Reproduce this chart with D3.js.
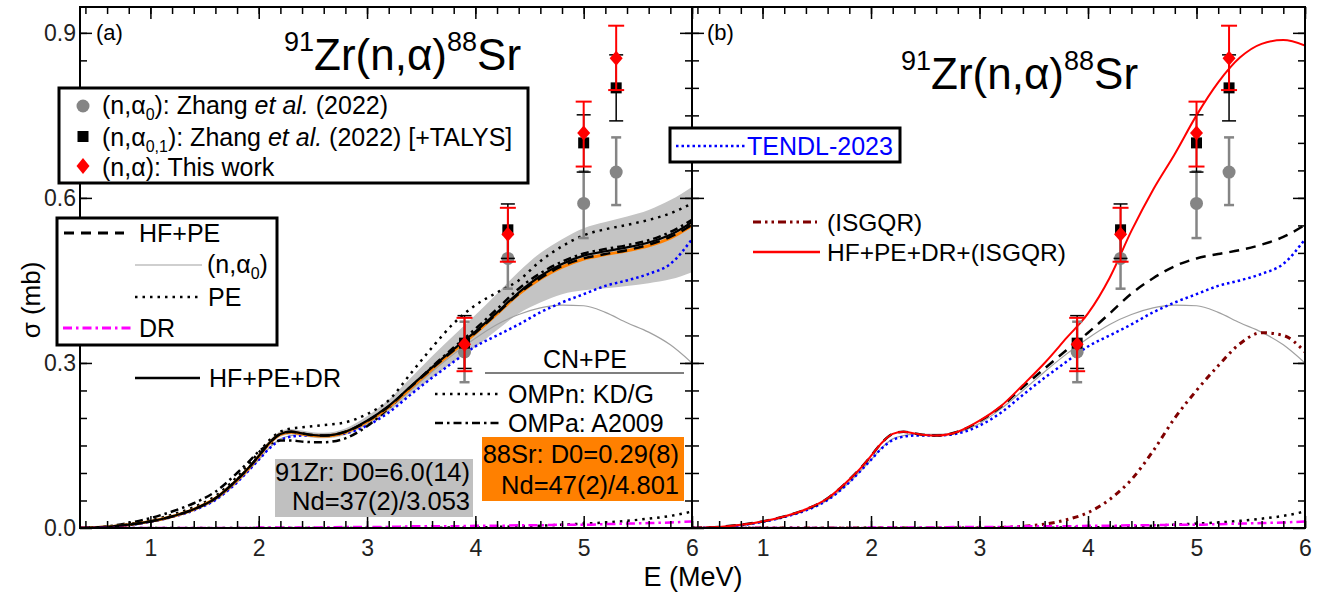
<!DOCTYPE html>
<html>
<head>
<meta charset="utf-8">
<script src="https://cdn.jsdelivr.net/npm/d3@7"></script>
<style>
  body { margin: 0; background: #fff; }
  svg { font-family: "Liberation Sans", Arial, sans-serif; }
</style>
</head>
<body>
<svg id="chart" width="1317" height="594"></svg>
<script>
'use strict';
// energy grid shared by all calculated curves (MeV)
const eGrid = [0.35, 0.6, 0.8, 1.0, 1.2, 1.4, 1.6, 1.8, 1.9, 2.0, 2.1, 2.2, 2.3, 2.4, 2.5, 2.6,
  2.8, 3.0, 3.2, 3.4, 3.6, 3.8, 4.0, 4.2, 4.4, 4.6, 4.8, 5.0, 5.2, 5.4, 5.6, 5.8, 6.0];

// calculated cross sections (mb) on eGrid
const hfPeDr = [0.000, 0.002, 0.006, 0.012, 0.021, 0.034, 0.054, 0.088, 0.108, 0.131, 0.155, 0.171, 0.175, 0.172, 0.169, 0.168,
  0.175, 0.195, 0.222, 0.257, 0.292, 0.325, 0.357, 0.392, 0.428, 0.458, 0.480, 0.495, 0.503, 0.510, 0.519, 0.533, 0.556];
const hfPeDrSr = [0.000, 0.002, 0.006, 0.012, 0.021, 0.034, 0.054, 0.087, 0.107, 0.130, 0.154, 0.170, 0.174, 0.171, 0.168, 0.167,
  0.174, 0.193, 0.220, 0.254, 0.289, 0.322, 0.354, 0.389, 0.425, 0.453, 0.474, 0.489, 0.497, 0.504, 0.513, 0.527, 0.550];
const hfPe = [0.000, 0.002, 0.006, 0.012, 0.021, 0.034, 0.054, 0.088, 0.108, 0.131, 0.155, 0.171, 0.175, 0.172, 0.169, 0.168,
  0.175, 0.194, 0.221, 0.256, 0.290, 0.323, 0.355, 0.390, 0.426, 0.454, 0.476, 0.490, 0.498, 0.505, 0.515, 0.529, 0.551];
const bandHi = [0.000, 0.002, 0.006, 0.012, 0.022, 0.035, 0.056, 0.091, 0.111, 0.135, 0.160, 0.176, 0.180, 0.177, 0.174, 0.173,
  0.181, 0.203, 0.233, 0.272, 0.312, 0.350, 0.387, 0.426, 0.466, 0.500, 0.525, 0.545, 0.556, 0.566, 0.578, 0.596, 0.620];
const bandLo = [0.000, 0.002, 0.006, 0.012, 0.020, 0.033, 0.052, 0.085, 0.105, 0.127, 0.150, 0.166, 0.170, 0.167, 0.164, 0.163,
  0.169, 0.187, 0.211, 0.243, 0.273, 0.302, 0.329, 0.360, 0.390, 0.410, 0.425, 0.432, 0.436, 0.440, 0.445, 0.452, 0.465];
const ompnKdG = [0.000, 0.002, 0.007, 0.014, 0.024, 0.038, 0.058, 0.093, 0.114, 0.137, 0.160, 0.175, 0.181, 0.183, 0.185, 0.187,
  0.192, 0.207, 0.232, 0.280, 0.328, 0.372, 0.405, 0.428, 0.450, 0.485, 0.512, 0.532, 0.543, 0.551, 0.560, 0.572, 0.590];
const ompaA2009 = [0.000, 0.003, 0.009, 0.018, 0.030, 0.045, 0.066, 0.100, 0.119, 0.139, 0.152, 0.159, 0.159, 0.157, 0.156, 0.156,
  0.163, 0.185, 0.218, 0.255, 0.293, 0.328, 0.362, 0.398, 0.435, 0.463, 0.484, 0.499, 0.507, 0.514, 0.523, 0.538, 0.560];
const tendl = [0.000, 0.001, 0.005, 0.011, 0.020, 0.032, 0.051, 0.083, 0.103, 0.124, 0.145, 0.160, 0.166, 0.168, 0.168, 0.168,
  0.172, 0.186, 0.210, 0.242, 0.273, 0.302, 0.330, 0.350, 0.370, 0.392, 0.410, 0.425, 0.440, 0.450, 0.462, 0.480, 0.525];
const nAlpha0 = [0.000, 0.001, 0.005, 0.011, 0.020, 0.032, 0.051, 0.083, 0.103, 0.124, 0.146, 0.162, 0.168, 0.170, 0.170, 0.170,
  0.174, 0.190, 0.217, 0.250, 0.284, 0.316, 0.345, 0.370, 0.388, 0.400, 0.405, 0.404, 0.392, 0.373, 0.356, 0.333, 0.300];
const peOnly = [0, 0, 0, 0, 0, 0, 0, 0, 0, 0, 0, 0, 0, 0, 0, 0,
  0, 0, 0, 0, 0, 0.001, 0.001, 0.002, 0.003, 0.004, 0.006, 0.008, 0.010, 0.013, 0.017, 0.022, 0.030];
const drOnly = [0, 0, 0, 0, 0, 0, 0, 0, 0, 0.001, 0.001, 0.001, 0.001, 0.001, 0.001, 0.001,
  0.002, 0.002, 0.002, 0.003, 0.003, 0.003, 0.004, 0.004, 0.005, 0.005, 0.006, 0.006, 0.007, 0.008, 0.009, 0.010, 0.012];
const isgqr = [0, 0, 0, 0, 0, 0, 0, 0, 0, 0, 0, 0, 0, 0, 0, 0,
  0, 0, 0.001, 0.003, 0.007, 0.015, 0.028, 0.052, 0.088, 0.140, 0.200, 0.250, 0.295, 0.335, 0.355, 0.350, 0.320];
const totalIsgqr = [0.000, 0.002, 0.006, 0.012, 0.021, 0.034, 0.054, 0.088, 0.108, 0.131, 0.155, 0.171, 0.175, 0.172, 0.169, 0.168,
  0.175, 0.195, 0.222, 0.260, 0.300, 0.345, 0.390, 0.455, 0.540, 0.615, 0.680, 0.750, 0.810, 0.855, 0.880, 0.887, 0.877];

// measurements
const expE = [3.9, 4.3, 5.0, 5.3];
const zhangA0 = [0.320, 0.490, 0.590, 0.647];
const zhangA0Lo = [0.265, 0.435, 0.527, 0.587];
const zhangA0Hi = [0.375, 0.545, 0.648, 0.710];
const zhangA01 = [0.336, 0.542, 0.700, 0.800];
const zhangA01Lo = [0.290, 0.490, 0.647, 0.740];
const zhangA01Hi = [0.386, 0.589, 0.751, 0.860];
const thisWork = [0.334, 0.534, 0.718, 0.854];
const thisWorkLo = [0.285, 0.484, 0.657, 0.796];
const thisWorkHi = [0.382, 0.582, 0.775, 0.913];

const xMajor = [1, 2, 3, 4, 5, 6];
const xMinor = d3.range(0.4, 6.01, 0.2);
const yMajor = [0, 0.3, 0.6, 0.9];
const yMinor = d3.range(0.05, 0.94, 0.05);

const svg = d3.select('#chart');
const yTop = 7, yBot = 528;
const y = d3.scaleLinear().domain([0, 0.947]).range([yBot, yTop]);
const xa = d3.scaleLinear().domain([0.35, 6]).range([80, 692]);
const xb = d3.scaleLinear().domain([0.35, 6]).range([692, 1305]);

const pts = (vals) => eGrid.map((e, i) => [e, vals[i]]);

function addCurve(g, x, vals, stroke, width, dash) {
  const line = d3.line().x(d => x(d[0])).y(d => y(d[1])).curve(d3.curveMonotoneX);
  g.append('path')
    .datum(pts(vals))
    .attr('d', line)
    .attr('fill', 'none')
    .attr('stroke', stroke)
    .attr('stroke-width', width)
    .attr('stroke-dasharray', dash || null);
}

function addAxes(x, labelled) {
  const [x0, x1] = x.range();
  const ax = svg.append('g').attr('class', 'axes');
  const strip = (sel) => { sel.select('.domain').remove(); sel.selectAll('line').attr('stroke', '#000').attr('stroke-width', 1.5); };
  ax.append('g').attr('transform', `translate(0,${yBot})`)
    .call(d3.axisBottom(x).tickValues(xMajor).tickSize(-12).tickPadding(12).tickFormat(d3.format('d')))
    .call(strip)
    .selectAll('text').attr('font-size', 23).attr('fill', '#222').attr('font-family', 'Liberation Sans, Arial');
  ax.append('g').attr('transform', `translate(0,${yBot})`)
    .call(d3.axisBottom(x).tickValues(xMinor).tickSize(-7).tickFormat('')).call(strip);
  ax.append('g').attr('transform', `translate(0,${yTop})`)
    .call(d3.axisTop(x).tickValues(xMajor).tickSize(-12).tickFormat('')).call(strip);
  ax.append('g').attr('transform', `translate(0,${yTop})`)
    .call(d3.axisTop(x).tickValues(xMinor).tickSize(-7).tickFormat('')).call(strip);
  const left = ax.append('g').attr('transform', `translate(${x0},0)`)
    .call(d3.axisLeft(y).tickValues(yMajor).tickSize(-12).tickPadding(4).tickFormat(d3.format('.1f')))
    .call(strip);
  left.selectAll('text').attr('font-size', 23).attr('fill', '#222').attr('font-family', 'Liberation Sans, Arial');
  if (!labelled) left.selectAll('text').remove();
  ax.append('g').attr('transform', `translate(${x0},0)`)
    .call(d3.axisLeft(y).tickValues(yMinor).tickSize(-7).tickFormat('')).call(strip);
  ax.append('g').attr('transform', `translate(${x1},0)`)
    .call(d3.axisRight(y).tickValues(yMajor).tickSize(-12).tickFormat('')).call(strip);
  ax.append('g').attr('transform', `translate(${x1},0)`)
    .call(d3.axisRight(y).tickValues(yMinor).tickSize(-7).tickFormat('')).call(strip);
  ax.append('rect').attr('x', x0).attr('y', yTop).attr('width', x1 - x0).attr('height', yBot - yTop)
    .attr('fill', 'none').attr('stroke', '#000').attr('stroke-width', 2);
}

function addPoints(g, x) {
  const sets = [
    { v: zhangA0, lo: zhangA0Lo, hi: zhangA0Hi, c: '#858585', cap: 5, w: 2.5, shape: 'circle' },
    { v: zhangA01, lo: zhangA01Lo, hi: zhangA01Hi, c: '#000', cap: 7, w: 1.5, shape: 'square' },
    { v: thisWork, lo: thisWorkLo, hi: thisWorkHi, c: '#ff0000', cap: 8, w: 2, shape: 'diamond' },
  ];
  sets.forEach(s => {
    expE.forEach((e, i) => {
      const cx = x(e);
      const bars = g.append('g').attr('stroke', s.c).attr('stroke-width', s.w);
      bars.append('line').attr('x1', cx).attr('x2', cx).attr('y1', y(s.lo[i])).attr('y2', y(s.hi[i]));
      [s.lo[i], s.hi[i]].forEach(v => bars.append('line')
        .attr('x1', cx - s.cap).attr('x2', cx + s.cap).attr('y1', y(v)).attr('y2', y(v)));
      const cy = y(s.v[i]);
      if (s.shape === 'circle') g.append('circle').attr('cx', cx).attr('cy', cy).attr('r', 6.5).attr('fill', s.c);
      if (s.shape === 'square') g.append('rect').attr('x', cx - 5.5).attr('y', cy - 5.5).attr('width', 11).attr('height', 11).attr('fill', s.c);
      if (s.shape === 'diamond') g.append('path').attr('d', `M${cx},${cy - 7.5}L${cx + 6.5},${cy}L${cx},${cy + 7.5}L${cx - 6.5},${cy}Z`).attr('fill', s.c);
    });
  });
}

function clipFor(id, x) {
  const [x0, x1] = x.range();
  svg.append('clipPath').attr('id', id).append('rect')
    .attr('x', x0).attr('y', yTop).attr('width', x1 - x0).attr('height', yBot - yTop);
}

// ---------- panel (a)
clipFor('clipA', xa);
const ga = svg.append('g').attr('clip-path', 'url(#clipA)');
const band = d3.area().x(d => xa(d[0])).y0(d => y(d[1])).y1(d => y(d[2])).curve(d3.curveMonotoneX);
ga.append('path').datum(eGrid.map((e, i) => [e, bandLo[i], bandHi[i]]))
  .attr('d', band).attr('fill', '#c4c4c4');
addCurve(ga, xa, nAlpha0, '#a0a0a0', 1.2);
addCurve(ga, xa, tendl, '#0000ff', 2.5, '2.5,3');
addCurve(ga, xa, ompnKdG, '#000', 2.5, '2.5,5');
addCurve(ga, xa, ompaA2009, '#000', 2.5, '8,4,2.5,4');
addCurve(ga, xa, hfPeDrSr, '#ff8000', 3);
addCurve(ga, xa, hfPe, '#000', 2.5, '10,7');
addCurve(ga, xa, hfPeDr, '#000', 2.2);
addCurve(ga, xa, peOnly, '#000', 2.5, '2.5,5');
addCurve(ga, xa, drOnly, '#ff00ff', 2.5, '9,4,2.5,4');
addPoints(ga, xa);

// ---------- panel (b)
clipFor('clipB', xb);
const gb = svg.append('g').attr('clip-path', 'url(#clipB)');
addCurve(gb, xb, nAlpha0, '#a0a0a0', 1.2);
addCurve(gb, xb, tendl, '#0000ff', 2.5, '2.5,3');
addCurve(gb, xb, hfPe, '#000', 2.5, '10,7');
addCurve(gb, xb, isgqr, '#800000', 3, '2.5,4.5,2.5,4.5,6,4.5');
addCurve(gb, xb, peOnly, '#000', 2.5, '2.5,5');
addCurve(gb, xb, drOnly, '#ff00ff', 2.5, '9,4,2.5,4');
addCurve(gb, xb, totalIsgqr, '#ff0000', 2);
addPoints(gb, xb);

addAxes(xa, true);
addAxes(xb, false);

// ---------- texts
const T = (x, yy, str, size, opts = {}) => svg.append('text').attr('x', x).attr('y', yy)
  .attr('font-size', size).attr('fill', opts.fill || '#000')
  .attr('text-anchor', opts.anchor || 'start')
  .attr('dominant-baseline', opts.base || 'central').text(str);

T(693, 577, 'E (MeV)', 27, { anchor: 'middle' });
svg.append('text').attr('transform', 'translate(31,300) rotate(-90)')
  .attr('text-anchor', 'middle').attr('dominant-baseline', 'central')
  .attr('font-size', 26).text('σ (mb)');
T(96, 32, '(a)', 22);
T(707, 32, '(b)', 22);

function title(x0, base) {
  const t = svg.append('text').attr('x', x0).attr('y', base).attr('font-size', 44);
  t.append('tspan').attr('font-size', 27).attr('dy', -19).text('91');
  t.append('tspan').attr('dy', 19).text('Zr(n,α)');
  t.append('tspan').attr('font-size', 27).attr('dy', -19).text('88');
  t.append('tspan').attr('dy', 19).text('Sr');
}
title(284, 70);
title(901, 89);

// legend: data
svg.append('rect').attr('x', 59).attr('y', 88).attr('width', 469).attr('height', 95)
  .attr('fill', '#fff').attr('stroke', '#000').attr('stroke-width', 3);
svg.append('circle').attr('cx', 83).attr('cy', 106).attr('r', 6.5).attr('fill', '#858585');
svg.append('rect').attr('x', 77.5).attr('y', 131).attr('width', 11).attr('height', 11).attr('fill', '#000');
svg.append('path').attr('d', 'M83,158L89.5,166L83,174L76.5,166Z').attr('fill', '#ff0000');
function subLabel(x0, base, pre, sub, post, italic, rest) {
  const t = svg.append('text').attr('x', x0).attr('y', base).attr('font-size', 25);
  t.append('tspan').text(pre);
  t.append('tspan').attr('font-size', 16).attr('dy', 6).text(sub);
  t.append('tspan').attr('dy', -6).text(post);
  if (italic) {
    t.append('tspan').attr('font-style', 'italic').text(italic);
    t.append('tspan').text(rest);
  }
}
subLabel(102, 114, '(n,α', '0', '): Zhang ', 'et al.', ' (2022)');
subLabel(102, 146, '(n,α', '0,1', '): Zhang ', 'et al.', ' (2022) [+TALYS]');
T(102, 167, '(n,α): This work', 25);

// legend: model lines (a)
svg.append('rect').attr('x', 57).attr('y', 218).attr('width', 220).attr('height', 127)
  .attr('fill', '#fff').attr('stroke', '#000').attr('stroke-width', 3);
const L = (x1, x2, yy, stroke, w, dash) => svg.append('line').attr('x1', x1).attr('x2', x2)
  .attr('y1', yy).attr('y2', yy).attr('stroke', stroke).attr('stroke-width', w)
  .attr('stroke-dasharray', dash || null);
L(64, 124, 233, '#000', 3, '10,7'); T(139, 233, 'HF+PE', 25);
L(135, 202, 265, '#a0a0a0', 1.2);
subLabel(207, 273, '(n,α', '0', ')');
L(135, 202, 297, '#000', 2.5, '2.5,5'); T(208, 297, 'PE', 25);
L(63, 133, 328, '#ff00ff', 3, '9,4,2.5,4'); T(139, 328, 'DR', 25);
L(135, 200, 378, '#000', 2.5); T(209, 378, 'HF+PE+DR', 25);

// CN+PE variants
T(585, 359, 'CN+PE', 25, { anchor: 'middle' });
L(485, 684, 373, '#000', 1.2);
L(435, 498, 394, '#000', 2.5, '2.5,5'); T(508, 394, 'OMPn: KD/G', 25);
L(435, 500, 423, '#000', 2.5, '8,4,2.5,4'); T(508, 423, 'OMPa: A2009', 25);

svg.append('rect').attr('x', 482).attr('y', 437).attr('width', 202).attr('height', 64).attr('fill', '#ff8000');
T(679, 454, '88Sr: D0=0.29(8)', 25.5, { anchor: 'end' });
T(679, 485, 'Nd=47(2)/4.801', 25.5, { anchor: 'end' });
svg.append('rect').attr('x', 275).attr('y', 459).attr('width', 198).attr('height', 58).attr('fill', '#c0c0c0');
T(470, 472, '91Zr: D0=6.0(14)', 25.5, { anchor: 'end' });
T(470, 501, 'Nd=37(2)/3.053', 25.5, { anchor: 'end' });

// TENDL box across the panel border
svg.append('rect').attr('x', 670).attr('y', 128).attr('width', 230).attr('height', 34)
  .attr('fill', '#fff').attr('stroke', '#000').attr('stroke-width', 3);
L(676, 745, 146, '#0000ff', 2.5, '2.5,3');
T(747, 146, 'TENDL-2023', 25, { fill: '#0000ff' });

// legend (b)
L(753, 817, 222, '#800000', 3, '8,4,2.5,4,2.5,4'); T(827, 222, '(ISGQR)', 24.5);
L(753, 820, 252, '#ff0000', 2.5); T(827, 252, 'HF+PE+DR+(ISGQR)', 24.5);
</script>
</body>
</html>
